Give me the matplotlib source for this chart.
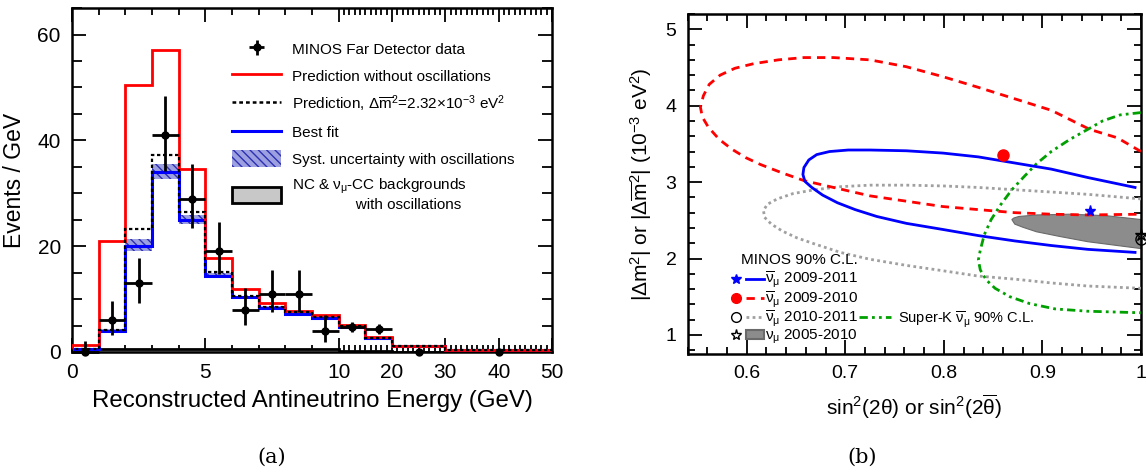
import matplotlib.pyplot as plt
import numpy as np
from matplotlib.legend_handler import HandlerTuple
from matplotlib.lines import Line2D
from matplotlib.patches import Patch

plt.rcParams['font.family'] = ['Liberation Sans', 'DejaVu Sans']
plt.rcParams['mathtext.fontset'] = 'custom'
plt.rcParams['mathtext.rm'] = 'Liberation Sans'
plt.rcParams['mathtext.it'] = 'Liberation Sans'
plt.rcParams['mathtext.bf'] = 'Liberation Sans:bold'

# ---------------- panel (a) data ----------------
edges = np.array([0, 1, 2, 3, 4, 5, 6, 7, 8, 9, 10, 15, 20, 30, 50])
no_osc = [1.3, 21.0, 50.5, 57.0, 34.6, 17.8, 11.9, 9.2, 7.7, 7.0, 5.1, 2.8, 1.1, 0.3]
pred_osc = [0.6, 4.1, 23.3, 37.2, 26.5, 15.1, 10.6, 8.5, 7.5, 6.6, 4.9, 2.7, 1.1, 0.3]
best_fit = [0.5, 4.0, 20.1, 34.0, 25.0, 14.4, 10.3, 8.4, 7.2, 6.5, 4.8, 2.7, 1.1, 0.3]
syst_lo = [0.4, 3.7, 19.1, 32.7, 24.2, 14.0, 10.0, 8.1, 7.0, 6.3, 4.7, 2.6, 1.0, 0.25]
syst_hi = [0.6, 4.3, 21.3, 35.6, 25.8, 14.9, 10.6, 8.7, 7.4, 6.7, 4.9, 2.8, 1.2, 0.35]
bkg = [0.6, 0.6, 0.6, 0.6, 0.6, 0.6, 0.6, 0.6, 0.6, 0.6, 0.1, 0.1, 0.05, 0.02]

data_x = [0.5, 1.5, 2.5, 3.5, 4.5, 5.5, 6.5, 7.5, 8.5, 9.5, 12.5, 17.5, 25, 40]
data_xerr = [0.5, 0.5, 0.5, 0.5, 0.5, 0.5, 0.5, 0.5, 0.5, 0.5, 2.5, 2.5, 0, 0]
data_y = [0.0, 6.0, 13.0, 41.0, 29.0, 19.0, 7.9, 10.9, 10.9, 3.9, 4.7, 4.3, 0.0, 0.0]
data_up = [2.0, 3.6, 4.8, 7.4, 6.6, 5.6, 4.1, 4.6, 4.6, 3.1, 1.0, 0.95, 0, 0]
data_dn = [0.0, 2.7, 3.8, 6.7, 5.6, 4.3, 2.8, 3.3, 3.3, 2.0, 1.0, 0.95, 0, 0]

# ---------------- panel (b) data ----------------
red_x = [1.0, 0.976, 0.948, 0.909, 0.872, 0.835, 0.799, 0.762, 0.725, 0.688, 0.658, 0.632, 0.607,
         0.588, 0.573, 0.562, 0.556, 0.553, 0.555, 0.561, 0.572, 0.585, 0.599, 0.614, 0.636, 0.658,
         0.688, 0.725, 0.762, 0.799, 0.835, 0.872, 0.909, 0.946, 1.0]
red_y = [3.40, 3.58, 3.69, 3.94, 4.09, 4.24, 4.38, 4.51, 4.60, 4.63, 4.63, 4.60, 4.55,
         4.49, 4.40, 4.28, 4.13, 3.98, 3.85, 3.72, 3.56, 3.43, 3.32, 3.23, 3.12, 3.02,
         2.93, 2.82, 2.75, 2.68, 2.64, 2.60, 2.58, 2.57, 2.58]
blue_x = [0.994, 0.946, 0.909, 0.872, 0.835, 0.799, 0.762, 0.725, 0.703, 0.684, 0.671, 0.663, 0.658,
          0.657, 0.659, 0.666, 0.677, 0.692, 0.710, 0.732, 0.762, 0.799, 0.835, 0.872, 0.909, 0.946, 0.994]
blue_y = [2.93, 3.06, 3.17, 3.25, 3.33, 3.38, 3.41, 3.42, 3.42, 3.40, 3.36, 3.29, 3.19,
          3.10, 3.01, 2.93, 2.83, 2.73, 2.64, 2.55, 2.46, 2.38, 2.30, 2.23, 2.17, 2.12, 2.08]
gray_x = [1.0, 0.946, 0.909, 0.872, 0.835, 0.799, 0.762, 0.725, 0.695, 0.669, 0.647, 0.631, 0.621,
          0.617, 0.618, 0.625, 0.636, 0.651, 0.669, 0.695, 0.725, 0.762, 0.799, 0.835, 0.872, 0.909, 0.946, 1.0]
gray_y = [2.78, 2.84, 2.87, 2.90, 2.93, 2.95, 2.96, 2.96, 2.94, 2.90, 2.85, 2.78, 2.71,
          2.63, 2.54, 2.45, 2.36, 2.27, 2.19, 2.08, 1.99, 1.91, 1.84, 1.77, 1.73, 1.68, 1.64, 1.61]
sk_x = [1.0, 0.979, 0.961, 0.946, 0.928, 0.909, 0.894, 0.882, 0.869, 0.858, 0.848, 0.841, 0.837,
        0.835, 0.837, 0.843, 0.852, 0.867, 0.887, 0.913, 0.946, 1.0]
sk_y = [3.91, 3.88, 3.80, 3.69, 3.56, 3.40, 3.24, 3.08, 2.90, 2.71, 2.51, 2.31, 2.11,
        1.98, 1.85, 1.72, 1.61, 1.50, 1.41, 1.34, 1.31, 1.29]
nu_x = [0.869, 0.871, 0.876, 0.894, 0.928, 0.965, 1.0, 1.0, 0.976, 0.946, 0.917, 0.894, 0.880, 0.872, 0.869]
nu_y = [2.51, 2.53, 2.55, 2.57, 2.58, 2.56, 2.51, 2.13, 2.17, 2.22, 2.29, 2.35, 2.41, 2.45, 2.51]
best_points = {'blue': (0.948, 2.62), 'red': (0.860, 3.36), 'circle': (1.0, 2.26), 'star': (1.0, 2.31)}

fig = plt.figure(figsize=(11.46, 4.75), dpi=100)

# ================= (a) =================
ax = fig.add_axes([0.0628, 0.259, 0.419, 0.724])


def fwd(x):
    x = np.asarray(x, dtype=float)
    return np.where(x < 10, 5 * x, 40 + x)


def inv(y):
    y = np.asarray(y, dtype=float)
    return np.where(y < 50, y / 5, y - 40)


ax.set_xscale('function', functions=(fwd, inv))

ax.fill_between(edges, np.r_[syst_lo, syst_lo[-1]], np.r_[syst_hi, syst_hi[-1]], step='post',
                facecolor='#9da0e0', edgecolor='#2c30b0', hatch='\\\\\\\\', linewidth=0, zorder=2)
ax.fill_between(edges, 0, np.r_[bkg, bkg[-1]], step='post', color='#c8c8c8', zorder=2)
ax.stairs(bkg, edges, color='black', lw=2, zorder=3)
ax.stairs(best_fit, edges, color='#0000ff', lw=2.2, zorder=4)
ax.stairs(pred_osc, edges, color='black', lw=1.6, ls=(0, (1.5, 1.2)), zorder=5)
ax.stairs(no_osc, edges, color='#ff0000', lw=2, zorder=4)
h_data = ax.errorbar(data_x, data_y, xerr=data_xerr, yerr=[data_dn, data_up], fmt='o', color='black',
                     ms=5, elinewidth=2, capsize=0, zorder=6, clip_on=False)

ax.set_xlim(0, 50)
ax.set_ylim(0, 65)
ax.set_xticks([0, 5, 10, 20, 30, 40, 50])
ax.set_xticklabels(['0', '5', '10', '20', '30', '40', '50'])
ax.set_xticks(np.arange(0, 51, 1), minor=True)
ax.set_yticks([0, 20, 40, 60])
ax.set_yticks(np.arange(0, 66, 5), minor=True)
ax.tick_params(which='both', direction='in', top=True, right=True, labelsize=15, width=1.3)
ax.tick_params(which='major', length=10, pad=8)
ax.tick_params(axis='x', which='minor', length=5)
ax.tick_params(axis='y', which='minor', length=7)
for s in ax.spines.values():
    s.set_linewidth(1.8)
ax.set_xlabel('Reconstructed Antineutrino Energy (GeV)', fontsize=17.3, labelpad=6)
ax.set_ylabel('Events / GeV', fontsize=16.5, labelpad=8)

h_red = Line2D([], [], color='#ff0000', lw=2)
h_dot = Line2D([], [], color='black', lw=1.8, ls=(0, (1.5, 1.2)))
h_blue = Line2D([], [], color='#0000ff', lw=2.2)
h_syst = Patch(facecolor='#9da0e0', edgecolor='#2c30b0', hatch='\\\\\\\\', lw=0)
h_bkg = Patch(facecolor='#c8c8c8', edgecolor='black', lw=2)
ax.legend([h_data, h_red, h_dot, h_blue, h_syst, h_bkg],
          ['MINOS Far Detector data', 'Prediction without oscillations',
           r'Prediction, $\Delta\overline{m}^2$=2.32$\times$10$^{-3}$ eV$^2$', 'Best fit',
           'Syst. uncertainty with oscillations',
           'NC & $\\nu_\\mu$-CC backgrounds\n               with oscillations'],
          loc='upper left', bbox_to_anchor=(0.305, 0.945), frameon=False, fontsize=11,
          handlelength=3.2, handleheight=1.3, labelspacing=0.64, handletextpad=0.7)

# ================= (b) =================
bx = fig.add_axes([0.600, 0.2547, 0.3956, 0.7158])
bx.fill(nu_x, nu_y, facecolor='#8c8c8c', edgecolor='#6a6a6a', lw=0.8, zorder=2)
bx.plot(gray_x, gray_y, color='#a0a0a0', lw=2, ls=(0, (1, 1.2)), zorder=3)
bx.plot(red_x, red_y, color='#ff0000', lw=2, ls=(0, (3, 2.2)), zorder=3)
bx.plot(blue_x, blue_y, color='#0000ff', lw=2, zorder=4)
bx.plot(sk_x, sk_y, color='#00a000', lw=2, ls=(0, (3, 1.5, 1, 1.5, 1, 1.5)), zorder=3)
bx.plot(*best_points['blue'], marker='*', color='#0000ff', ms=8, zorder=5)
bx.plot(*best_points['red'], marker='o', color='#ff0000', ms=8, zorder=5)
bx.plot(*best_points['circle'], marker='o', mfc='none', mec='black', ms=8, mew=1, zorder=5, clip_on=False)
bx.plot(*best_points['star'], marker='*', mfc='none', mec='black', ms=9, mew=1, zorder=5, clip_on=False)

bx.set_xlim(0.54, 1.0)
bx.set_ylim(0.75, 5.2)
bx.set_xticks([0.6, 0.7, 0.8, 0.9, 1.0])
bx.set_xticklabels(['0.6', '0.7', '0.8', '0.9', '1'])
bx.set_xticks(np.arange(0.54, 1.001, 0.02), minor=True)
bx.set_yticks([1, 2, 3, 4, 5])
bx.set_yticks(np.arange(0.8, 5.21, 0.2), minor=True)
bx.tick_params(which='both', direction='in', top=True, right=True, labelsize=14, width=1.3)
bx.tick_params(which='major', length=10, pad=8)
bx.tick_params(which='minor', length=5)
for s in bx.spines.values():
    s.set_linewidth(1.8)
bx.set_xlabel(r'sin$^2$(2$\theta$) or sin$^2$(2$\overline{\theta}$)', fontsize=15, labelpad=8)
bx.set_ylabel(r'|$\Delta$m$^2$| or |$\Delta\overline{m}^2$| (10$^{-3}$ eV$^2$)', fontsize=15, labelpad=8)

m_blue = Line2D([], [], color='#0000ff', marker='*', ls='none', ms=7)
l_blue = Line2D([], [], color='#0000ff', lw=2)
m_red = Line2D([], [], color='#ff0000', marker='o', ls='none', ms=7)
l_red = Line2D([], [], color='#ff0000', lw=2, ls=(0, (3, 2.2)))
m_circ = Line2D([], [], color='black', marker='o', mfc='none', ls='none', ms=7)
l_gray = Line2D([], [], color='#a0a0a0', lw=2, ls=(0, (1, 1.2)))
m_star = Line2D([], [], color='black', marker='*', mfc='none', ls='none', ms=8)
p_nu = Patch(facecolor='#8c8c8c', edgecolor='#6a6a6a', lw=1.5)
leg = bx.legend([(m_blue, l_blue), (m_red, l_red), (m_circ, l_gray), (m_star, p_nu)],
                [r'$\overline{\nu}_\mu$ 2009-2011', r'$\overline{\nu}_\mu$ 2009-2010',
                 r'$\overline{\nu}_\mu$ 2010-2011', r'$\nu_\mu$ 2005-2010'],
                handler_map={tuple: HandlerTuple(ndivide=None, pad=0.15)},
                title='MINOS 90% C.L.', title_fontsize=11, fontsize=11,
                loc='lower left', bbox_to_anchor=(0.07, 0.0), frameon=False,
                handlelength=2.4, handleheight=0.6, handletextpad=0.1, labelspacing=-0.05,
                borderaxespad=0.3, borderpad=0.2)
leg._legend_box.align = 'right'
leg._legend_box.sep = 2
bx.add_artist(leg)
l_sk = Line2D([], [], color='#00a000', lw=2, ls=(0, (3, 1.5, 1, 1.5, 1, 1.5)))
bx.legend([l_sk], [r'Super-K $\overline{\nu}_\mu$ 90% C.L.'], fontsize=10.5, frameon=False,
          loc='lower left', bbox_to_anchor=(0.355, 0.045), handlelength=2.2, handletextpad=0.5,
          borderpad=0.2)

fig.text(0.237, 0.025, '(a)', fontsize=15, family='DejaVu Serif', ha='center')
fig.text(0.752, 0.025, '(b)', fontsize=15, family='DejaVu Serif', ha='center')

plt.savefig('out.png', dpi=100)
